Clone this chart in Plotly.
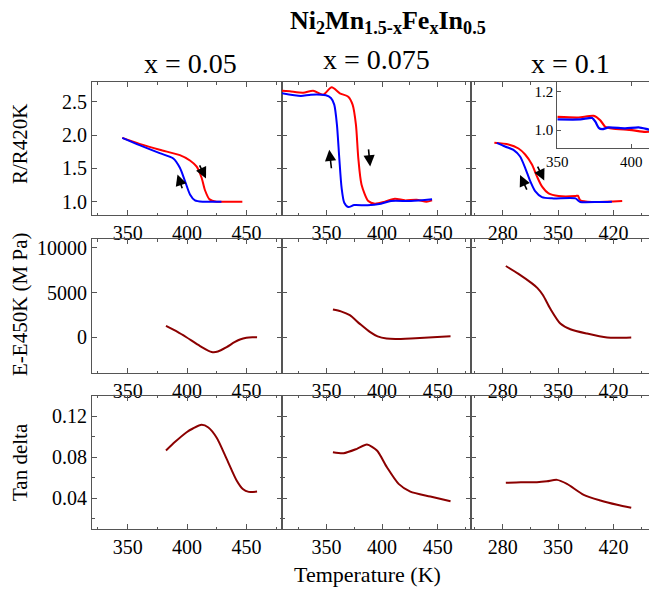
import plotly.graph_objects as go

W, H = 657, 589
OX, OY = 8, 8          # page body margin of the browser
FW, FH = W - OX, H - OY
FONT = "Liberation Serif"

# ---------------- data ----------------
# Row 1: R/R420K (red = heating, blue = cooling)
r1_T_red_a = [345.5, 360, 377, 394, 402.5, 408, 412.3, 415, 419, 425, 435, 446.6]
r1_R_red_a = [1.96, 1.87, 1.78, 1.70, 1.62, 1.53, 1.36, 1.18, 1.035, 1.0, 1.0, 1.0]
r1_T_blue_a = [345.5, 360, 377, 388.5, 394, 398.3, 402.5, 406.7, 413.7, 429]
r1_R_blue_a = [1.96, 1.85, 1.73, 1.65, 1.51, 1.31, 1.11, 1.02, 1.0, 1.0]

r1_T_red_b = [310, 317, 329, 338, 347, 354.7, 362, 369.6, 373.5, 376.5, 378.6, 381.5, 387.6, 393.5, 402.5, 411.5, 420.5, 431, 440, 445]
r1_R_red_b = [2.67, 2.66, 2.64, 2.67, 2.61, 2.72, 2.63, 2.58, 2.46, 2.16, 1.66, 1.26, 1.01, 0.97, 1.0, 1.045, 1.02, 1.03, 1.0, 1.02]
r1_T_blue_b = [310, 327, 336, 349.5, 354, 357, 359.4, 361.5, 363.6, 366, 369.6, 375, 387, 399, 408, 426, 445]
r1_R_blue_b = [2.63, 2.59, 2.61, 2.60, 2.56, 2.46, 2.16, 1.66, 1.21, 0.985, 0.92, 0.95, 0.945, 0.97, 1.01, 1.01, 1.035]

r1_T_red_c = [269.5, 287.3, 300, 308.4, 317, 323.3, 329.6, 338, 350.6, 372, 375, 378, 393, 431]
r1_R_red_c = [1.885, 1.86, 1.80, 1.71, 1.56, 1.38, 1.23, 1.125, 1.085, 1.085, 1.09, 1.02, 0.995, 1.01]
r1_T_blue_c = [272.6, 283, 293.6, 302, 308.4, 314.8, 321, 329.6, 342.3, 372, 376, 378, 401, 418]
r1_R_blue_c = [1.885, 1.83, 1.78, 1.68, 1.51, 1.31, 1.16, 1.07, 1.05, 1.05, 1.01, 0.995, 0.995, 1.0]

# inset (x = 0.1)
in_T_red = [350, 364.4, 374.5, 379, 382.4, 386.9, 400.4, 409.4, 418]
in_R_red = [1.069, 1.066, 1.075, 1.052, 1.017, 1.009, 1.0, 0.991, 0.995]
in_T_blue = [350, 365.7, 373.6, 375.8, 378, 380.3, 384.8, 396, 405, 414, 420]
in_R_blue = [1.056, 1.056, 1.064, 1.043, 1.012, 1.005, 1.014, 1.009, 1.014, 1.0, 1.0]

# Row 2: E - E450K (MPa)
r2_T_a = [382.3, 392, 399.5, 411, 420.8, 426, 433.4, 440, 444.6, 450, 455, 459]
r2_E_a = [1270, 600, 0, -980, -1650, -1600, -1100, -550, -250, -50, 10, 0]
r2_T_b = [355.8, 363, 371, 380, 389, 396, 404, 412, 430, 461.6]
r2_E_b = [3110, 2900, 2470, 1500, 600, 100, -150, -200, -100, 110]
r2_T_c = [284, 300, 317, 324, 331, 340, 352.8, 365.5, 386.6, 412, 425, 442.4]
r2_E_c = [7980, 7100, 6030, 5500, 4700, 3220, 1540, 900, 410, -30, -60, -20]

# Row 3: tan delta
r3_T_a = [382.3, 390, 399.7, 405, 412.3, 418, 425, 433.4, 441.8, 447, 452, 459]
r3_D_a = [0.0865, 0.095, 0.1044, 0.108, 0.1116, 0.109, 0.099, 0.0784, 0.0573, 0.049, 0.0462, 0.0465]
r3_T_b = [355.8, 365.4, 377.4, 386.4, 395.4, 404.4, 414.9, 425.4, 443.4, 461.6]
r3_D_b = [0.0849, 0.0839, 0.0882, 0.0924, 0.0865, 0.0702, 0.054, 0.0465, 0.0417, 0.0371]
r3_T_c = [284, 303, 323.3, 336, 348.6, 361.2, 382.4, 403.5, 424.6, 442.4]
r3_D_c = [0.055, 0.0555, 0.0556, 0.0565, 0.0579, 0.054, 0.0433, 0.0378, 0.0336, 0.0307]

col_titles = ["x = 0.05", "x = 0.075", "x = 0.1"]
row_titles = ["R/R420K", "E-E450K (M Pa)", "Tan delta"]

# arrows: (panel col, tail T, tail R, head T, head R)
arrows = [
    (0, 410, 1.57, 416, 1.35), (0, 396.4, 1.18, 392, 1.41),
    (1, 354.6, 1.48, 352.5, 1.78), (1, 387.7, 1.81, 389.3, 1.53),
    (2, 323.3, 1.55, 332.5, 1.32), (2, 311.4, 1.16, 302, 1.40),
]

# ---------------- layout geometry ----------------
def px(x):
    return (x - OX) / FW

def py(y):
    return 1 - (y - OY) / FH

col_dom = [(px(92), px(282)), (px(282), px(471)), (px(471), 1.0)]
col_rng = [(320, 480), (310, 480), (240, 240 + 240 * 186 / 190)]
col_tick = [dict(dtick=50, tick0=350, minor=25), dict(dtick=50, tick0=350, minor=25),
            dict(dtick=70, tick0=280, minor=35)]
row_dom = [(py(215), py(82)), (py(373), py(239)), (py(529), py(395.7))]
row_rng = [(0.8, 2.8), (-4000, 11000), (0.01, 0.14)]
row_tick = [dict(tickvals=[1.0, 1.5, 2.0, 2.5], ticktext=["1.0", "1.5", "2.0", "2.5"], minor=None),
            dict(tickvals=[0, 5000, 10000], ticktext=["0", "5000", "10000"], minor=None),
            dict(tickvals=[0.04, 0.08, 0.12], ticktext=["0.04", "0.08", "0.12"], minor=0.02)]

LC = "#555555"
fig = go.Figure()
layout = {}

series = {
    (0, 0): [(r1_T_red_a, r1_R_red_a, "#ff0000"), (r1_T_blue_a, r1_R_blue_a, "#0000ff")],
    (0, 1): [(r1_T_red_b, r1_R_red_b, "#ff0000"), (r1_T_blue_b, r1_R_blue_b, "#0000ff")],
    (0, 2): [(r1_T_red_c, r1_R_red_c, "#ff0000"), (r1_T_blue_c, r1_R_blue_c, "#0000ff")],
    (1, 0): [(r2_T_a, r2_E_a, "#8b0000")],
    (1, 1): [(r2_T_b, r2_E_b, "#8b0000")],
    (1, 2): [(r2_T_c, r2_E_c, "#8b0000")],
    (2, 0): [(r3_T_a, r3_D_a, "#8b0000")],
    (2, 1): [(r3_T_b, r3_D_b, "#8b0000")],
    (2, 2): [(r3_T_c, r3_D_c, "#8b0000")],
}

n = 0
panel_axes = {}
for r in range(3):
    for c in range(3):
        n += 1
        xa = "xaxis" if n == 1 else f"xaxis{n}"
        ya = "yaxis" if n == 1 else f"yaxis{n}"
        xr = "x" if n == 1 else f"x{n}"
        yr = "y" if n == 1 else f"y{n}"
        panel_axes[(r, c)] = (xr, yr)
        ct = col_tick[c]
        layout[xa] = dict(
            domain=list(col_dom[c]), range=list(col_rng[c]), anchor=yr, automargin=False,
            showgrid=False, zeroline=False, showline=True, linecolor=LC, linewidth=1,
            mirror="allticks", ticks="inside", ticklen=5, tickcolor=LC,
            tick0=ct["tick0"], dtick=ct["dtick"],
            minor=dict(ticks="inside", dtick=ct["minor"], ticklen=2.5, tickcolor=LC),
            tickfont=dict(family=FONT, size=20, color="black"),
        )
        rt = row_tick[r]
        ydict = dict(
            domain=list(row_dom[r]), range=list(row_rng[r]), anchor=xr, automargin=False,
            showgrid=False, zeroline=False, showline=True, linecolor=LC, linewidth=1,
            mirror=("allticks" if c < 2 else True), ticks="inside", ticklen=5, tickcolor=LC,
            tickvals=rt["tickvals"], ticktext=rt["ticktext"],
            showticklabels=(c == 0),
            tickfont=dict(family=FONT, size=20, color="black"),
        )
        if rt["minor"]:
            ydict["minor"] = dict(ticks="inside", dtick=rt["minor"], ticklen=2.5, tickcolor=LC)
        layout[ya] = ydict
        for (xs, ys, colr) in series[(r, c)]:
            fig.add_trace(go.Scatter(x=xs, y=ys, xaxis=xr, yaxis=yr, mode="lines",
                                     line=dict(color=colr, width=2, shape="spline", smoothing=0.7),
                                     showlegend=False, hoverinfo="skip"))

# inset
n += 1
layout[f"xaxis{n}"] = dict(
    domain=[px(557.3), 1.0], range=[350, 350 + 99.7 / 1.48], anchor=f"y{n}", automargin=False,
    showgrid=False, zeroline=False, showline=True, linecolor=LC, linewidth=1,
    mirror="allticks", ticks="inside", ticklen=4, tickcolor=LC, tickvals=[350, 400],
    tickfont=dict(family=FONT, size=15, color="black"),
)
layout[f"yaxis{n}"] = dict(
    domain=[py(147.7), py(82)], range=[0.908, 1.252], anchor=f"x{n}", automargin=False,
    showgrid=False, zeroline=False, showline=True, linecolor=LC, linewidth=1,
    mirror=True, ticks="inside", ticklen=4, tickcolor=LC, tickvals=[1.0, 1.2],
    ticktext=["1.0", "1.2"], tickfont=dict(family=FONT, size=15, color="black"),
)
for (xs, ys, colr) in [(in_T_red, in_R_red, "#ff0000"), (in_T_blue, in_R_blue, "#0000ff")]:
    fig.add_trace(go.Scatter(x=xs, y=ys, xaxis=f"x{n}", yaxis=f"y{n}", mode="lines",
                             line=dict(color=colr, width=2.2, shape="spline", smoothing=0.6),
                             showlegend=False, hoverinfo="skip"))

annotations = []
for (c, tx, ty, hx, hy) in arrows:
    xr, yr = panel_axes[(0, c)]
    annotations.append(dict(x=hx, y=hy, ax=tx, ay=ty, xref=xr, yref=yr, axref=xr, ayref=yr,
                            text="", showarrow=True, arrowhead=2, arrowsize=1.4,
                            arrowwidth=1.6, arrowcolor="black"))

annotations.append(dict(text="<b>Ni<sub>2</sub>Mn<sub>1.5-x</sub>Fe<sub>x</sub>In<sub>0.5</sub></b>",
                        x=px(388), y=py(22), xref="paper", yref="paper", showarrow=False,
                        xanchor="center", yanchor="middle",
                        font=dict(family=FONT, size=26, color="black")))
for txt, cx, cy in zip(col_titles, [190, 376, 570], [64, 59, 64]):
    annotations.append(dict(text=txt, x=px(cx), y=py(cy), xref="paper", yref="paper",
                            showarrow=False, xanchor="center", yanchor="middle",
                            font=dict(family=FONT, size=28, color="black")))
for txt, cy in zip(row_titles, [144, 305, 462]):
    annotations.append(dict(text=txt, x=px(20), y=py(cy), xref="paper", yref="paper",
                            showarrow=False, xanchor="center", yanchor="middle", textangle=-90,
                            font=dict(family=FONT, size=21, color="black")))
annotations.append(dict(text="Temperature (K)", x=px(368), y=py(574), xref="paper", yref="paper",
                        showarrow=False, xanchor="center", yanchor="middle",
                        font=dict(family=FONT, size=22, color="black")))

fig.update_layout(width=FW, height=FH, margin=dict(l=0, r=0, t=0, b=0),
                  paper_bgcolor="white", plot_bgcolor="white",
                  annotations=annotations, **layout)
fig.write_html("out.html")
